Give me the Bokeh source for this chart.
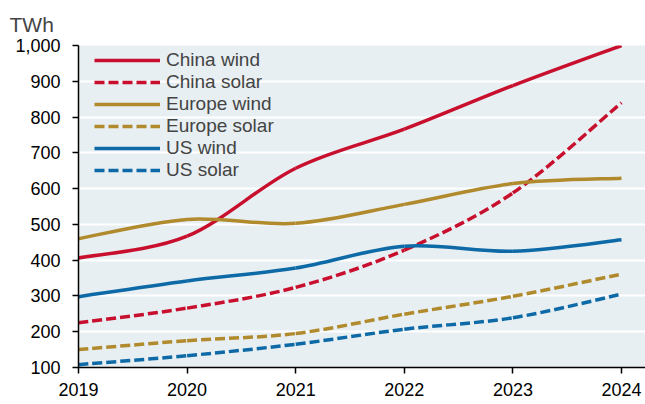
from bokeh.plotting import figure
from bokeh.models import Range1d, NumeralTickFormatter, FixedTicker, Legend, LegendItem, ColumnDataSource
from bokeh.embed import file_html
from bokeh.resources import INLINE

years = [2019, 2020, 2021, 2022, 2023, 2024]
china_wind = [406, 467, 657, 766, 888, 1000]
china_solar = [225, 266, 324, 428, 588, 840]
europe_wind = [460, 514, 503, 556, 614, 629]
europe_solar = [150, 175, 195, 249, 299, 361]
us_wind = [298, 342, 378, 439, 425, 457]
us_solar = [108, 133, 165, 207, 239, 305]
y_ticks = [100, 200, 300, 400, 500, 600, 700, 800, 900, 1000]

series = [
    ("China wind", china_wind, "#c8102e", "solid"),
    ("China solar", china_solar, "#c8102e", "10 4"),
    ("Europe wind", europe_wind, "#b08a2c", "solid"),
    ("Europe solar", europe_solar, "#b08a2c", "10 4"),
    ("US wind", us_wind, "#0d6aa6", "solid"),
    ("US solar", us_solar, "#0d6aa6", "10 4"),
]

FONT = "Liberation Sans"

p = figure(width=645, height=400, output_backend="svg", toolbar_location=None,
           x_range=Range1d(2019, 2024.221), y_range=Range1d(100, 1000),
           min_border_left=78, min_border_right=0, min_border_top=44, min_border_bottom=33)
p.background_fill_color = "#e7eff2"
p.outline_line_color = None
p.border_fill_color = "white"

p.title.text = "TWh"
p.title.text_font = FONT
p.title.text_font_size = "21px"
p.title.text_font_style = "normal"
p.title.text_line_height = 1.0
p.title.align = "left"
p.title.offset = -69
p.title.standoff = 20


def smooth_segments(xs, ys):
    n = len(xs)
    x0, y0, x1, y1, cx0, cy0, cx1, cy1 = [], [], [], [], [], [], [], []
    for i in range(n - 1):
        xm = xs[i - 1] if i > 0 else xs[i]
        ym = ys[i - 1] if i > 0 else ys[i]
        xp = xs[i + 2] if i + 2 < n else xs[i + 1]
        yp = ys[i + 2] if i + 2 < n else ys[i + 1]
        x0.append(xs[i]); y0.append(ys[i])
        x1.append(xs[i + 1]); y1.append(ys[i + 1])
        cx0.append(xs[i] + (xs[i + 1] - xm) / 6.0)
        cy0.append(ys[i] + (ys[i + 1] - ym) / 6.0)
        cx1.append(xs[i + 1] - (xp - xs[i]) / 6.0)
        cy1.append(ys[i + 1] - (yp - ys[i]) / 6.0)
    return dict(x0=x0, y0=y0, x1=x1, y1=y1, cx0=cx0, cy0=cy0, cx1=cx1, cy1=cy1)


items = []
for name, vals, color, dash in series:
    src = ColumnDataSource(smooth_segments(years, vals))
    r = p.bezier(x0="x0", y0="y0", x1="x1", y1="y1", cx0="cx0", cy0="cy0", cx1="cx1", cy1="cy1",
                 source=src, line_color=color, line_width=3.5, line_dash=dash)
    items.append(LegendItem(label=name, renderers=[r]))

legend = Legend(items=items, location=(16, 186), border_line_color=None,
                background_fill_alpha=0, padding=0, margin=0, spacing=0,
                glyph_width=66, glyph_height=22, label_height=22, label_standoff=6,
                label_text_font=FONT, label_text_font_size="19px")
p.add_layout(legend, "center")

p.xgrid.grid_line_color = None
p.ygrid.grid_line_color = "white"
p.ygrid.grid_line_width = 2
p.ygrid.ticker = FixedTicker(ticks=y_ticks)

p.yaxis.ticker = FixedTicker(ticks=y_ticks)
p.yaxis.formatter = NumeralTickFormatter(format="0,0")
p.xaxis.ticker = FixedTicker(ticks=years)
for ax in (p.xaxis[0], p.yaxis[0]):
    ax.axis_line_color = "black"
    ax.axis_line_width = 1.5
    ax.major_tick_line_color = "black"
    ax.major_tick_line_width = 1.5
    ax.major_tick_in = 0
    ax.major_tick_out = 6
    ax.minor_tick_line_color = None
    ax.major_label_text_font = FONT
    ax.major_label_text_font_size = "18px"
    ax.major_label_text_color = "black"
p.yaxis.major_label_standoff = 12
p.xaxis.major_label_standoff = 9

open("out.html", "w").write(file_html(p, INLINE))
